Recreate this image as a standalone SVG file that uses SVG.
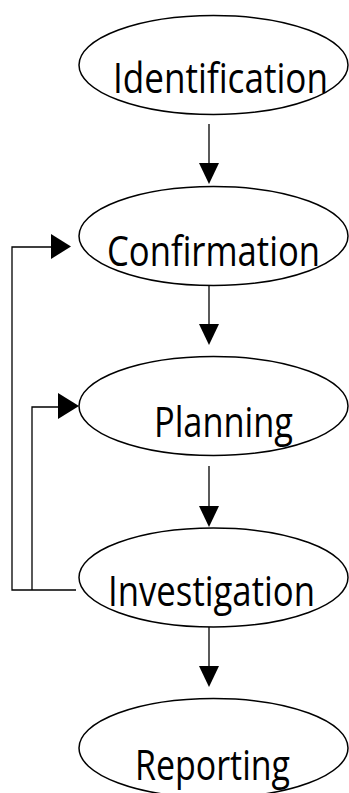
<svg xmlns="http://www.w3.org/2000/svg" width="349" height="793" viewBox="0 0 349 793">
<style>
.node ellipse{fill:#fff;stroke:#000;stroke-width:1.5}
.node text{font-family:"Open Sans","DejaVu Sans",sans-serif;font-size:42px;fill:#000}
.edge{fill:none;stroke:#000;stroke-width:1.3}
.head{fill:#000;stroke:none}
</style>
<rect width="349" height="793" fill="#fff"/>
<g id="connectors">
<line class="edge" x1="209" y1="124" x2="209" y2="165"/>
<polygon class="head" points="199,163 219,163 209,184"/>
<line class="edge" x1="209" y1="286" x2="209" y2="326"/>
<polygon class="head" points="199,324 219,324 209,345"/>
<line class="edge" x1="209" y1="466" x2="209" y2="508"/>
<polygon class="head" points="199,506 219,506 209,527"/>
<line class="edge" x1="209" y1="627" x2="209" y2="668"/>
<polygon class="head" points="199,666 219,666 209,687"/>
<path class="edge" d="M76,590 H12 V247 H53"/>
<polygon class="head" points="51,234 71,246.5 51,259"/>
<path class="edge" d="M32,590 V407 H60"/>
<polygon class="head" points="58,393 79,406 58,419"/>
</g>
<g id="identification" class="node">
<ellipse cx="213.5" cy="65" rx="134.5" ry="49.5"/>
<text x="113" y="93" textLength="215" lengthAdjust="spacingAndGlyphs">Identification</text>
</g>
<g id="confirmation" class="node">
<ellipse cx="213.5" cy="236" rx="134.5" ry="49.5"/>
<text x="107" y="266" textLength="213" lengthAdjust="spacingAndGlyphs">Confirmation</text>
</g>
<g id="planning" class="node">
<ellipse cx="213.5" cy="406" rx="134.5" ry="49.5"/>
<text x="154" y="437" textLength="139" lengthAdjust="spacingAndGlyphs">Planning</text>
</g>
<g id="investigation" class="node">
<ellipse cx="213.5" cy="577.5" rx="134.5" ry="49.5"/>
<text x="108" y="606" textLength="207" lengthAdjust="spacingAndGlyphs">Investigation</text>
</g>
<g id="reporting" class="node">
<ellipse cx="213.5" cy="748" rx="134.5" ry="49.5"/>
<text x="135" y="780" textLength="155" lengthAdjust="spacingAndGlyphs">Reporting</text>
</g>
</svg>
